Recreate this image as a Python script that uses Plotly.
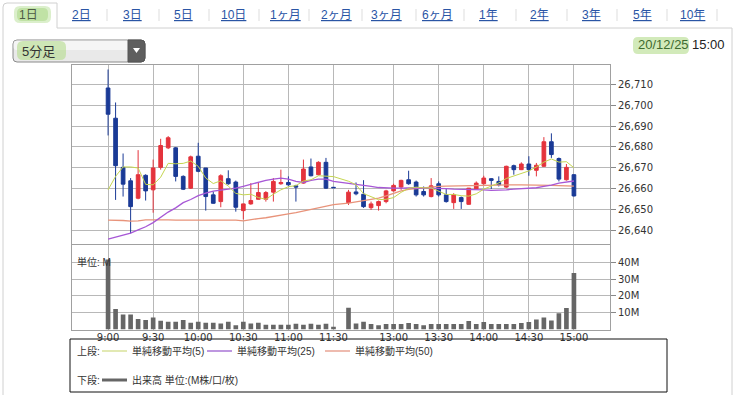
import plotly.graph_objects as go

W, H = 748, 395

# ---------------- data ----------------
times_am = [f"{t // 60}:{t % 60:02d}" for t in range(540, 691, 5)]   # 9:00 .. 11:30
times_pm = [f"{t // 60}:{t % 60:02d}" for t in range(750, 901, 5)]   # 12:30 .. 15:00
times = times_am + times_pm
axis_categories = times_am + ["昼休み"] + times_pm
tick_labels = ["9:00", "9:30", "10:00", "10:30", "11:00", "11:30",
               "13:00", "13:30", "14:00", "14:30", "15:00"]

opens = [26708.1, 26693.7, 26670.3, 26663.9, 26655.6, 26666.5, 26659.6, 26670.3, 26679.6, 26679.6,
         26666.0, 26660.4, 26675.6, 26670.0, 26657.2, 26654.0, 26664.9, 26663.3, 26649.7, 26652.9,
         26655.1, 26655.1, 26658.5, 26662.5, 26663.1, 26661.5, 26662.8, 26670.5, 26666.8, 26672.7,
         26660.8,
         26653.5, 26658.6, 26657.5, 26651.1, 26652.1, 26654.0, 26659.1, 26660.9, 26664.4, 26663.3,
         26658.8, 26656.4, 26662.5, 26657.2, 26653.5, 26655.9, 26652.7, 26660.1, 26662.5, 26664.9,
         26663.6, 26660.9, 26671.1, 26669.2, 26671.9, 26668.9, 26670.8, 26682.5, 26674.5, 26664.4,
         26666.8]
highs = [26716.9, 26701.2, 26676.9, 26665.2, 26678.5, 26667.0, 26674.0, 26683.9, 26685.2, 26680.0,
         26666.5, 26675.9, 26682.0, 26670.0, 26658.8, 26667.0, 26668.9, 26664.0, 26653.0, 26662.8,
         26663.1, 26659.0, 26665.2, 26669.2, 26666.0, 26662.0, 26674.0, 26674.5, 26673.2, 26674.8,
         26660.9,
         26659.6, 26663.1, 26664.2, 26654.0, 26654.5, 26659.6, 26662.5, 26664.4, 26668.7, 26664.0,
         26661.2, 26665.2, 26663.6, 26660.4, 26658.0, 26656.4, 26660.5, 26663.6, 26666.3, 26665.2,
         26666.0, 26671.1, 26671.6, 26672.7, 26675.6, 26672.4, 26684.7, 26686.5, 26675.0, 26671.9,
         26667.0]
lows = [26685.5, 26654.8, 26656.4, 26638.8, 26655.1, 26654.5, 26648.7, 26669.2, 26679.0, 26663.6,
        26659.5, 26660.0, 26668.0, 26649.7, 26653.0, 26651.3, 26662.0, 26649.2, 26645.5, 26652.5,
        26655.0, 26654.0, 26654.0, 26662.0, 26661.5, 26654.0, 26662.5, 26666.0, 26666.5, 26660.0,
        26660.5,
        26652.4, 26657.0, 26651.0, 26650.0, 26649.7, 26653.2, 26658.8, 26659.6, 26662.0, 26656.4,
        26656.4, 26656.0, 26656.4, 26653.5, 26650.5, 26650.5, 26652.5, 26660.0, 26662.0, 26660.0,
        26661.2, 26660.5, 26666.8, 26669.0, 26666.3, 26666.0, 26670.5, 26674.8, 26663.6, 26664.0,
        26656.4]
closes = [26695.6, 26671.1, 26662.3, 26651.6, 26666.8, 26659.1, 26670.0, 26680.7, 26684.4, 26666.0,
          26659.9, 26675.3, 26668.4, 26656.4, 26653.2, 26666.3, 26662.5, 26651.3, 26652.9, 26654.5,
          26658.3, 26658.3, 26663.6, 26663.1, 26662.0, 26660.9, 26669.5, 26666.3, 26672.7, 26660.4,
          26660.6,
          26658.5, 26657.7, 26651.6, 26652.9, 26654.0, 26659.1, 26661.7, 26664.1, 26662.5, 26657.2,
          26657.2, 26661.5, 26657.2, 26654.0, 26657.2, 26654.0, 26660.4, 26662.8, 26665.2, 26664.1,
          26662.0, 26670.8, 26669.2, 26671.9, 26669.2, 26671.3, 26682.5, 26676.4, 26664.7, 26670.3,
          26656.7]
ma5 = [26659.6, 26666.0, 26670.5, 26670.5, 26670.0, 26662.2, 26662.0, 26665.6, 26672.2, 26672.0,
       26672.2, 26673.3, 26670.8, 26665.2, 26662.6, 26663.9, 26661.4, 26657.9, 26657.2, 26657.5,
       26655.9, 26655.1, 26657.5, 26659.6, 26661.1, 26661.6, 26663.8, 26664.4, 26666.3, 26666.0,
       26665.9,
       26663.7, 26662.0, 26657.8, 26656.3, 26654.9, 26655.1, 26655.9, 26658.4, 26660.3, 26660.9,
       26660.5, 26660.5, 26659.1, 26657.4, 26657.4, 26656.8, 26656.6, 26657.7, 26659.9, 26661.3,
       26662.9, 26665.0, 26666.3, 26667.6, 26668.6, 26670.5, 26672.8, 26674.3, 26672.8, 26673.0,
       26670.1]
ma25 = [26636.1, 26637.0, 26638.0, 26639.0, 26640.5, 26642.0, 26644.0, 26646.5, 26649.0, 26651.0,
        26653.5, 26655.0, 26656.8, 26658.0, 26659.0, 26659.5, 26659.9, 26660.4, 26661.3, 26662.3,
        26663.1, 26664.1, 26664.7, 26665.2, 26664.7, 26663.6, 26663.1, 26664.1, 26664.7, 26664.7,
        26663.6,
        26662.5, 26662.0, 26661.5, 26661.2, 26660.7, 26660.4, 26660.4, 26660.4, 26660.6, 26660.6,
        26660.4, 26660.4, 26660.2, 26660.2, 26659.9, 26659.9, 26659.6, 26659.6, 26659.6, 26659.3,
        26659.3, 26659.6, 26659.9, 26660.1, 26660.2, 26660.6, 26661.2, 26661.8, 26662.8, 26663.4,
        26663.8]
ma50 = [26645.2, 26645.2, 26645.0, 26644.7, 26644.8, 26645.3, 26645.4, 26645.4, 26645.3, 26645.2,
        26645.2, 26645.3, 26645.3, 26645.2, 26645.2, 26645.2, 26645.3, 26645.2, 26644.8, 26645.5,
        26645.9, 26646.3, 26646.8, 26647.4, 26648.1, 26648.7, 26649.5, 26650.5, 26651.3, 26652.0,
        26652.6,
        26653.3, 26653.9, 26654.3, 26654.8, 26655.6, 26656.7, 26658.0, 26659.1, 26659.8, 26660.2,
        26660.6, 26660.9, 26661.2, 26661.4, 26661.5, 26661.5, 26661.6, 26661.7, 26661.8, 26661.8,
        26661.9, 26662.0, 26662.0, 26662.0, 26662.0, 26661.9, 26661.8, 26661.7, 26661.6, 26661.5,
        26661.4]
volume_m = [41.6, 12.2, 9.0, 9.0, 6.2, 5.6, 7.2, 5.2, 4.6, 4.6,
            5.6, 4.0, 4.6, 4.0, 4.0, 3.6, 4.6, 2.6, 4.6, 3.6,
            4.0, 2.8, 2.8, 2.8, 2.8, 3.4, 2.8, 3.4, 2.8, 3.4,
            1.6,
            13.0, 3.6, 4.6, 3.2, 2.6, 3.2, 3.2, 3.2, 3.8, 3.2,
            2.6, 3.2, 3.2, 3.2, 3.2, 3.2, 5.0, 3.2, 4.4, 3.2,
            3.2, 3.2, 3.2, 3.8, 4.4, 6.0, 7.2, 5.4, 9.6, 12.8,
            33.6]
price_ticks = [26640, 26650, 26660, 26670, 26680, 26690, 26700, 26710]
volume_ticks = [10, 20, 30, 40]
volume_tick_text = ["10M", "20M", "30M", "40M"]
tabs = ["1日", "2日", "3日", "5日", "10日", "1ヶ月", "2ヶ月", "3ヶ月", "6ヶ月",
        "1年", "2年", "3年", "5年", "10年"]

# ---------------- styles ----------------
RED = "#e4333c"
BLUE = "#1a3a96"
GRID = "#b8b8b8"
BORDER = "#a0a0a0"
TICKFONT = dict(family="DejaVu Sans", size=10, color="#333333")
JP = "Liberation Sans, Noto Sans CJK JP"


def px(x):
    return x / W


def py(y):
    return 1 - y / H


fig = go.Figure()

fig.add_trace(go.Candlestick(
    x=times, open=opens, high=highs, low=lows, close=closes,
    increasing=dict(line=dict(color=RED, width=1), fillcolor=RED),
    decreasing=dict(line=dict(color=BLUE, width=1), fillcolor=BLUE),
    whiskerwidth=0, xaxis="x", yaxis="y", showlegend=False, hoverinfo="skip"))

for vals, col, wd in [(ma50, "#e8937a", 1.3), (ma25, "#a757d6", 1.3), (ma5, "#c5d650", 1.0)]:
    fig.add_trace(go.Scatter(x=times, y=vals, mode="lines",
                             line=dict(color=col, width=wd),
                             xaxis="x", yaxis="y", showlegend=False, hoverinfo="skip"))

fig.add_trace(go.Bar(x=times, y=volume_m, marker=dict(color="#666666", line=dict(width=0)),
                     width=0.62, xaxis="x2", yaxis="y2", showlegend=False, hoverinfo="skip"))

xr = [-4.8, 66.8]
xdom = [px(72), px(610)]
common_x = dict(type="category", categoryorder="array", categoryarray=axis_categories,
                range=xr, domain=xdom, tickmode="array", tickvals=tick_labels,
                showgrid=True, gridcolor=GRID, gridwidth=1,
                showline=True, linecolor=BORDER, linewidth=1, mirror=True,
                zeroline=False, fixedrange=True)

fig.update_layout(
    width=W, height=H, autosize=False,
    margin=dict(l=0, r=0, t=0, b=0, pad=0),
    paper_bgcolor="white", plot_bgcolor="white",
    xaxis=dict(**common_x, showticklabels=False, ticks="", anchor="y"),
    xaxis2=dict(**common_x, showticklabels=True, ticks="", tickfont=TICKFONT, anchor="y2",
                ticklabelstandoff=-2),
    yaxis=dict(domain=[py(244), py(65)], range=[26633.8, 26719.05], side="right",
               anchor="x", tickmode="array", tickvals=price_ticks, tickformat=",.0f",
               ticks="outside", ticklen=5, tickcolor="#888888", tickfont=TICKFONT,
               showgrid=True, gridcolor=GRID, gridwidth=1,
               showline=True, linecolor=BORDER, mirror=True, zeroline=False, fixedrange=True),
    yaxis2=dict(domain=[py(329.5), py(245)], range=[0, 50.3], side="right",
                anchor="x2", tickmode="array", tickvals=volume_ticks, ticktext=volume_tick_text,
                ticks="outside", ticklen=5, tickcolor="#888888", tickfont=TICKFONT,
                showgrid=True, gridcolor=GRID, gridwidth=1,
                showline=True, linecolor=BORDER, mirror=True, zeroline=False, fixedrange=True),
    xaxis_rangeslider_visible=False,
    bargap=0.3,
)

shapes = []
annotations = []


def line(x0, y0, x1, y1, color, width=1, layer="above"):
    shapes.append(dict(type="line", xref="paper", yref="paper", x0=px(x0), y0=py(y0), x1=px(x1), y1=py(y1),
                       line=dict(color=color, width=width), layer=layer))


def rrect(x0, y0, x1, y1, r, fill, lc=None, lw=0, layer="below", corners="all"):
    tl = tr = br = bl = 0
    if corners in ("all", "left"):
        tl = bl = r
    if corners in ("all", "right"):
        tr = br = r
    p = (f"M {px(x0 + tl)} {py(y0)} L {px(x1 - tr)} {py(y0)} Q {px(x1)} {py(y0)} {px(x1)} {py(y0 + tr)} "
         f"L {px(x1)} {py(y1 - br)} Q {px(x1)} {py(y1)} {px(x1 - br)} {py(y1)} "
         f"L {px(x0 + bl)} {py(y1)} Q {px(x0)} {py(y1)} {px(x0)} {py(y1 - bl)} "
         f"L {px(x0)} {py(y0 + tl)} Q {px(x0)} {py(y0)} {px(x0 + tl)} {py(y0)} Z")
    shapes.append(dict(type="path", xref="paper", yref="paper", path=p, fillcolor=fill,
                       line=dict(color=lc if lc else "rgba(0,0,0,0)", width=lw), layer=layer))


def text(x, y, s, size=12, color="#333333", anchor="left", family=JP):
    annotations.append(dict(xref="paper", yref="paper", x=px(x), y=py(y), text=s, showarrow=False,
                            xanchor=anchor, yanchor="middle",
                            font=dict(family=family, size=size, color=color)))


# ----- tab bar / panel frame -----
PANEL = "#d0d0d0"
line(3, 7, 3, 395, PANEL)
shapes.append(dict(type="path", xref="paper", yref="paper",
                   path=f"M {px(3)} {py(7)} Q {px(3)} {py(3)} {px(7)} {py(3)} L {px(57)} {py(3)} L {px(57)} {py(28)}",
                   line=dict(color=PANEL, width=1), layer="below"))
line(57, 28, 732, 28, PANEL)
line(732, 28, 732, 395, PANEL)

# green highlights
rrect(14, 6, 51, 23, 6, "rgba(190,225,160,0.55)")
rrect(17, 8, 48, 21, 5, "rgba(170,215,135,0.55)")

tab_centers = [28.5, 81, 132, 183, 233, 285, 336, 387, 437, 489, 539, 591, 642, 692]
for i, (t, cx) in enumerate(zip(tabs, tab_centers)):
    if i == 0:
        text(cx, 15, t, size=12, color="#4d5a44", anchor="center")
    else:
        text(cx, 15, f"<u>{t}</u>", size=12, color="#2a55a5", anchor="center")
for sx in [107, 159, 209, 259, 309, 362, 416, 464, 516, 567, 617, 667, 717]:
    line(sx, 9, sx, 21, "#dddddd")

# dropdown
rrect(13, 40, 145, 62, 4, "#e9e9e9", lc="#8a8a8a", lw=1)
rrect(13.5, 40.5, 144.5, 50, 3, "rgba(255,255,255,0.55)", corners="all")
rrect(17, 41, 66, 60, 6, "rgba(180,220,140,0.6)")
rrect(128, 40, 145, 62, 4, "#5e5e5e", lc="#555555", lw=1, corners="right")
shapes.append(dict(type="path", xref="paper", yref="paper",
                   path=f"M {px(133)} {py(48)} L {px(140)} {py(48)} L {px(136.5)} {py(53)} Z",
                   fillcolor="white", line=dict(color="white", width=0), layer="above"))
text(20, 51, "5分足", size=13, color="#333333")

# date
rrect(633, 37, 689, 54, 5, "rgba(180,220,140,0.6)")
text(636, 45, "20/12/25", size=13, color="#3f6a30")
text(690, 45, "15:00", size=13, color="#222222")

# volume unit label
text(75, 262, "単位: M", size=10, color="#333333")

# legend
shapes.append(dict(type="rect", xref="paper", yref="paper", x0=px(70), y0=py(339), x1=px(667), y1=py(392),
                   line=dict(color="#111111", width=1), fillcolor="rgba(0,0,0,0)", layer="above"))
text(75, 351, "上段:", size=10)
line(102, 351, 127, 351, "#d8e29a", 1.5)
text(130, 351, "単純移動平均(5)", size=10)
line(207, 351, 232, 351, "#a874d6", 1.5)
text(235, 351, "単純移動平均(25)", size=10)
line(325, 351, 350, 351, "#e9a595", 1.5)
text(353, 351, "単純移動平均(50)", size=10)
text(75, 380, "下段:", size=10)
line(102, 380, 127, 380, "#666666", 3)
text(130, 380, "出来高 単位:(M株/口/枚)", size=10)

fig.update_layout(shapes=shapes, annotations=annotations)

fig.write_html("out.html", post_script="document.body.style.margin='0';", config={"displayModeBar": False})
